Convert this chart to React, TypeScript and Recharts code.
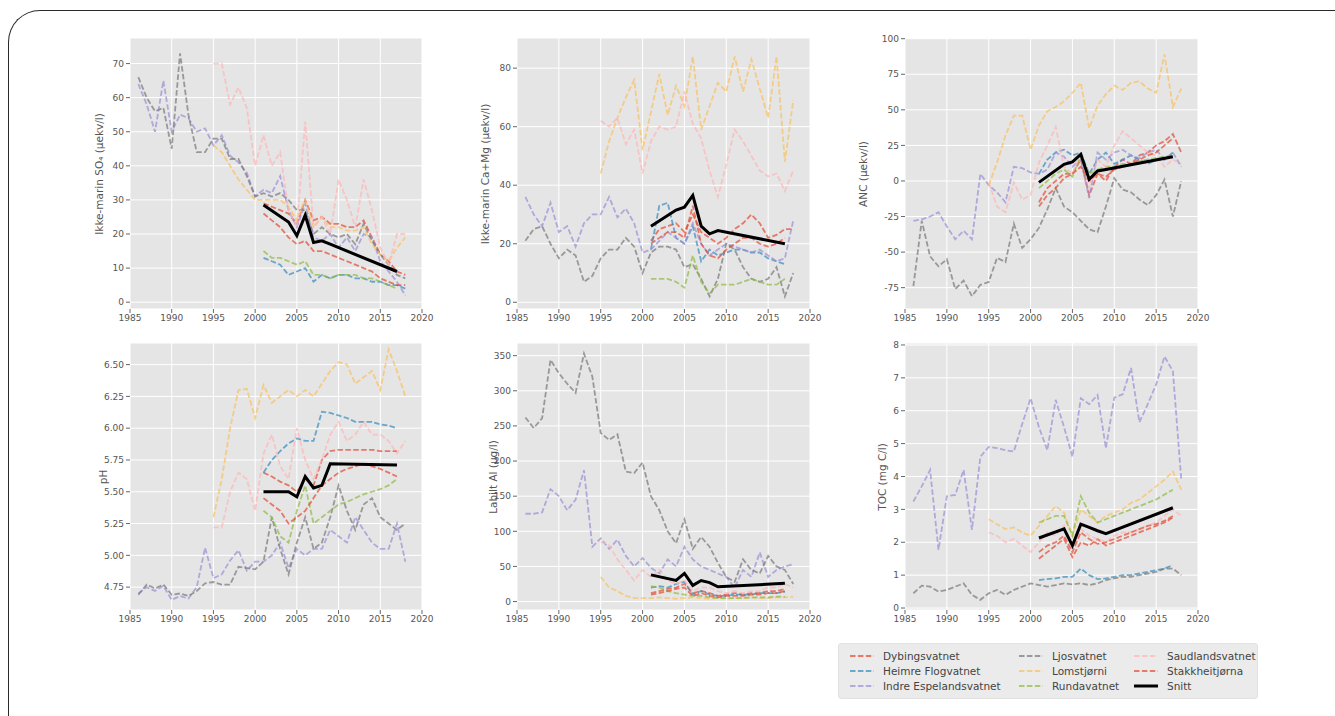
import { LineChart, Line, XAxis, YAxis, CartesianGrid } from 'recharts'

const YEARS = [
  1986, 1987, 1988, 1989, 1990, 1991, 1992, 1993, 1994, 1995, 1996, 1997, 1998, 1999, 2000,
  2001, 2002, 2003, 2004, 2005, 2006, 2007, 2008, 2009, 2010, 2011, 2012, 2013, 2014, 2015,
  2016, 2017, 2018,
]
const SNITT_YEARS = [2001, 2004, 2005, 2006, 2007, 2008, 2009, 2017]
const X_TICKS = [1985, 1990, 1995, 2000, 2005, 2010, 2015, 2020]

const SERIES = [
  { key: 'dyb', name: 'Dybingsvatnet', color: '#E24A33', start: 2001 },
  { key: 'hei', name: 'Heimre Flogvatnet', color: '#348ABD', start: 2001 },
  { key: 'ind', name: 'Indre Espelandsvatnet', color: '#988ED5', start: 1986 },
  { key: 'ljo', name: 'Ljosvatnet', color: '#777777', start: 1986 },
  { key: 'lom', name: 'Lomstjørni', color: '#FBC15E', start: 1995 },
  { key: 'run', name: 'Rundavatnet', color: '#8EBA42', start: 2001 },
  { key: 'sau', name: 'Saudlandsvatnet', color: '#FFB5B8', start: 1995 },
  { key: 'sta', name: 'Stakkheitjørna', color: '#E24A33', start: 2001 },
]

// Ikke-marin SO4
const SO4 = {
  dyb: [29, 28, 27, 26, 23, 30, 24, 25, 23, 23, 22, 22, 24, 19, 14, 12, 9, 8],
  hei: [13, 12, 11, 8, 9, 10, 6, 8, 7, 8, 8, 7, 7, 6, 6, 5, 5, 4],
  ind: [64, 58, 50, 65, 50, 55, 54, 50, 51, 46, 49, 43, 41, 38, 31,
    33, 32, 37, 27, 22, 29, 19, 18, 20, 16, 19, 15, 20, 19, 12, 9, 6, 2],
  ljo: [66, 60, 56, 57, 45, 73, 55, 44, 44, 48, 48, 42, 42, 37, 31,
    32, 31, 32, 30, 27, 27, 20, 22, 20, 19, 20, 17, 23, 18, 14, 11, 8, 7],
  lom: [46, 44, 40, 36, 33, 30, 30, 30, 30, 28, 24, 30, 22, 25, 22, 22, 21, 21, 22, 17, 14, 12, 16, 19],
  run: [15, 13, 13, 12, 11, 12, 8, 8, 7, 8, 8, 8, 7, 7, 6, 5, 4],
  sau: [70, 70, 58, 63, 57, 40, 49, 40, 44, 27, 22, 53, 22, 25, 20, 36, 30, 22, 36, 27, 16, 11, 20, 20],
  sta: [26, 24, 22, 19, 17, 18, 15, 15, 14, 13, 12, 11, 10, 9, 7, 6, 5, 5],
  snitt: [28.5, 23.5, 19.5, 25.5, 17.5, 18, 17, 9],
}

// Ikke-marin Ca+Mg
const CAMG = {
  dyb: [21, 25, 26, 27, 24, 30, 24, 22, 20, 22, 25, 27, 30, 27, 22, 23, 25, 25],
  hei: [18, 33, 34, 22, 20, 26, 14, 18, 16, 17, 18, 18, 17, 17, 15, 14, 13],
  ind: [36, 30, 26, 34, 24, 26, 19, 27, 30, 30, 36, 29, 32, 27, 17,
    18, 21, 24, 22, 20, 27, 20, 16, 18, 20, 19, 18, 17, 18, 16, 14, 15, 28],
  ljo: [21, 25, 26, 20, 15, 18, 16, 7, 9, 15, 18, 18, 22, 19, 10,
    17, 19, 19, 18, 12, 13, 8, 2, 8, 20, 18, 12, 8, 7, 8, 12, 2, 10],
  lom: [44, 55, 63, 70, 76, 52, 65, 78, 64, 74, 67, 84, 59, 67, 75, 72, 84, 72, 83, 73, 63, 84, 48, 69],
  run: [8, 8, 8, 7, 5, 16, 7, 3, 6, 6, 6, 7, 8, 7, 6, 6, 8],
  sau: [62, 60, 63, 54, 59, 44, 55, 60, 59, 60, 72, 61, 56, 45, 36, 47, 59, 55, 50, 45, 43, 44, 38, 45],
  sta: [20, 22, 24, 24, 22, 33, 20, 16, 15, 18, 20, 22, 22, 20, 19, 20, 22],
  snitt: [26, 31.5, 32.5, 36.5, 26, 23.4, 24.5, 20],
}

// ANC
const ANC = {
  dyb: [-15, -5, 0, 5, 5, 15, -10, 5, 0, 10, 15, 12, 18, 20, 25, 28, 33, 20],
  hei: [5, 15, 20, 22, 18, 20, 5, 15, 20, 12, 15, 18, 15, 12, 15, 15, 20],
  ind: [-28, -27, -25, -22, -32, -41, -35, -41, 5, -3, -8, -15, 10, 9, 6,
    5, 8, 20, 17, 10, 15, -12, 20, 15, 20, 22, 18, 16, 20, 22, 15, 20, 10],
  ljo: [-74, -28, -53, -60, -55, -76, -70, -81, -73, -71, -54, -57, -30, -47, -41,
    -33, -20, -5, -18, -22, -28, -34, -36, -18, 2, -6, -8, -13, -17, -10, 1, -25, 0],
  lom: [-3, 13, 32, 46, 46, 22, 39, 49, 52, 56, 62, 69, 37, 53, 61, 67, 64, 69, 70, 65, 62, 89, 52, 65],
  run: [-5, 0, 5, 8, 3, 18, 5, 8, 10, 10, 12, 12, 14, 15, 16, 17, 18],
  sau: [-1, -18, -22, -1, -13, -10, 13, 25, 38, 10, 5, 20, -5, 15, 10, 25, 35, 30, 25, 20, 18, 10, 15, 12],
  sta: [-18, -10, -5, 2, 5, 10, 0, 5, 3, 8, 10, 12, 15, 18, 20, 25, 30],
  snitt: [-1, 11.7, 13.4, 18.7, 1.2, 7, 8, 17],
}

// pH
const PH = {
  dyb: [5.65, 5.62, 5.58, 5.55, 5.5, 5.6, 5.55, 5.75, 5.82, 5.83, 5.83, 5.83, 5.83, 5.83, 5.82, 5.82, 5.82],
  hei: [5.65, 5.75, 5.82, 5.88, 5.92, 5.9, 5.9, 6.13, 6.12, 6.1, 6.08, 6.05, 6.05, 6.05, 6.03, 6.02, 6.0],
  ind: [4.7, 4.75, 4.72, 4.76, 4.65, 4.68, 4.66, 4.75, 5.06, 4.82, 4.85, 4.96, 5.04, 4.88, 4.95,
    4.95, 5.0, 5.1, 4.9, 5.05, 5.0, 5.05, 5.05, 5.2, 5.15, 5.1, 5.3, 5.2, 5.1, 5.05, 5.05, 5.25, 4.95],
  ljo: [4.69, 4.77, 4.74, 4.77, 4.69, 4.7, 4.68, 4.72, 4.78, 4.79, 4.77, 4.77, 4.91, 4.9, 4.89,
    4.95, 5.3, 5.05, 4.85, 5.1, 5.3, 5.05, 5.1, 5.3, 5.55, 5.35, 5.2, 5.4, 5.45, 5.3, 5.25, 5.2, 5.25],
  lom: [5.3, 5.6, 6.0, 6.3, 6.31, 6.08, 6.34, 6.2, 6.25, 6.3, 6.25, 6.3, 6.25, 6.35, 6.45, 6.52, 6.5, 6.35, 6.4, 6.45, 6.3, 6.62, 6.45, 6.25],
  run: [5.35, 5.3, 5.15, 5.1, 5.35, 5.55, 5.25, 5.3, 5.35, 5.4, 5.42, 5.45, 5.48, 5.5, 5.52, 5.55, 5.6],
  sau: [5.22, 5.22, 5.5, 5.65, 5.6, 5.35, 5.8, 5.95, 5.7, 5.6, 6.0, 5.75, 5.6, 5.75, 5.95, 6.05, 5.9, 5.95, 6.05, 5.95, 5.95, 5.9, 5.8, 5.9],
  sta: [5.45, 5.4, 5.35, 5.25, 5.3, 5.35, 5.45, 5.55, 5.6, 5.65, 5.68, 5.7, 5.72, 5.7, 5.68, 5.65, 5.62],
  snitt: [5.5, 5.5, 5.46, 5.62, 5.53, 5.55, 5.72, 5.71],
}

// Labilt Al
const AL = {
  dyb: [12, 15, 18, 20, 25, 12, 15, 12, 8, 10, 12, 10, 12, 12, 15, 15, 18],
  hei: [20, 22, 20, 25, 28, 10, 15, 10, 8, 8, 10, 10, 10, 12, 12, 12, 14],
  ind: [125, 125, 127, 160, 150, 130, 145, 187, 78, 90, 75, 88, 65, 50, 62,
    48, 40, 60, 50, 78, 60, 50, 45, 40, 35, 20, 45, 35, 70, 35, 45, 50, 53],
  ljo: [262, 247, 261, 344, 325, 310, 297, 353, 320, 240, 230, 238, 185, 183, 198,
    150, 130, 100, 83, 117, 75, 92, 78, 55, 35, 28, 60, 45, 40, 65, 50, 45, 25],
  lom: [35, 20, 15, 8, 5, 5, 5, 6, 5, 4, 5, 6, 5, 4, 5, 4, 5, 5, 6, 5, 5, 6, 6, 7],
  run: [22, 20, 15, 12, 10, 8, 8, 6, 5, 5, 5, 5, 6, 6, 6, 7, 7],
  sau: [85, 80, 60, 45, 30, 45, 35, 45, 30, 25, 30, 15, 20, 20, 15, 12, 15, 12, 15, 15, 20, 20, 25, 20],
  sta: [10, 12, 15, 18, 20, 8, 12, 8, 6, 8, 8, 8, 10, 10, 12, 12, 15],
  snitt: [38, 30, 40, 23, 30, 27, 21, 26],
}

// TOC
const TOC = {
  dyb: [1.5, 1.7, 1.9, 2.1, 1.55, 2.0, 1.9, 2.1, 1.9, 2.0, 2.1, 2.2, 2.3, 2.4, 2.5, 2.6, 2.75],
  hei: [0.85, 0.88, 0.9, 0.95, 0.95, 1.2, 1.0, 0.88, 0.9, 0.95, 1.0, 1.0, 1.05, 1.1, 1.15, 1.2, 1.3],
  ind: [3.24, 3.7, 4.2, 1.77, 3.4, 3.44, 4.2, 2.38, 4.6, 4.9, 4.86, 4.8, 4.76, 5.6, 6.38,
    5.5, 4.8, 6.33, 5.5, 4.6, 6.38, 6.2, 6.48, 4.86, 6.4, 6.5, 7.3, 5.65, 6.2, 6.8, 7.65, 7.2, 3.9],
  ljo: [0.45, 0.68, 0.65, 0.5, 0.55, 0.65, 0.75, 0.4, 0.25, 0.45, 0.55, 0.4, 0.55, 0.65, 0.75,
    0.7, 0.65, 0.7, 0.75, 0.72, 0.75, 0.7, 0.75, 0.85, 0.9, 0.95, 0.95, 1.0, 1.05, 1.1, 1.2, 1.2, 1.0],
  lom: [2.7, 2.55, 2.4, 2.45, 2.3, 2.2, 2.5, 2.8, 3.1, 2.9, 2.2, 3.0, 2.8, 2.6, 2.8, 2.9, 3.0, 3.2, 3.3, 3.5, 3.7, 3.9, 4.15, 3.6],
  run: [2.6, 2.7, 2.8, 2.8, 2.2, 3.4, 2.9, 2.6, 2.7, 2.8, 2.9, 3.0, 3.1, 3.2, 3.3, 3.45, 3.6],
  sau: [2.3, 2.2, 2.0, 2.1, 1.9, 1.7, 2.0, 2.3, 2.2, 2.5, 1.8, 2.4, 2.2, 2.1, 2.0, 2.2, 2.3, 2.3, 2.4, 2.5, 2.6, 2.8, 3.0, 2.8],
  sta: [1.7, 1.9, 2.0, 2.2, 1.7, 2.3, 2.1, 1.95, 2.0, 2.1, 2.2, 2.3, 2.4, 2.5, 2.55, 2.65, 2.8],
  snitt: [2.13, 2.41, 1.9, 2.55, 2.45, 2.35, 2.26, 3.05],
}

const FONT = '"DejaVu Sans", sans-serif'
const DASH = '5.5 2.4'

function buildRows(panel: Record<string, number[]>) {
  return YEARS.map((year) => {
    const row: Record<string, number | null> = { year }
    SERIES.forEach((s) => {
      const i = year - s.start
      const arr = panel[s.key]
      row[s.key] = i >= 0 && i < arr.length ? arr[i] : null
    })
    const j = SNITT_YEARS.indexOf(year)
    row.snitt = j >= 0 ? panel.snitt[j] : null
    return row
  })
}

interface PanelProps {
  data: Record<string, number[]>
  left: number
  top: number
  w: number
  h: number
  domain: [number, number]
  ticks: number[]
  fmt?: (v: number) => string
  label: string
  labelX: number
}

function Panel({ data, left, top, w, h, domain, ticks, fmt, label, labelX }: PanelProps) {
  const rows = buildRows(data)
  const tick = { fill: '#555', fontSize: 9, fontFamily: FONT }
  return (
    <>
      <div style={{ position: 'absolute', left: left - 60, top: top - 5 }}>
        <LineChart width={w + 80} height={h + 35} data={rows} margin={{ top: 5, right: 20, left: 0, bottom: 0 }}>
          <CartesianGrid stroke="#ffffff" strokeWidth={1} fill="#E5E5E5" fillOpacity={1} />
          <XAxis
            dataKey="year"
            type="number"
            domain={[1985, 2020]}
            ticks={X_TICKS}
            allowDataOverflow
            height={30}
            tick={tick}
            tickSize={4}
            tickLine={{ stroke: '#666' }}
            axisLine={false}
          />
          <YAxis
            type="number"
            domain={domain}
            ticks={ticks}
            allowDataOverflow
            width={60}
            tick={tick}
            tickSize={4}
            tickLine={{ stroke: '#666' }}
            axisLine={false}
            tickFormatter={fmt}
          />
          {SERIES.map((s) => (
            <Line
              key={s.key}
              dataKey={s.key}
              stroke={s.color}
              strokeOpacity={0.7}
              strokeWidth={1.8}
              strokeDasharray={DASH}
              dot={false}
              isAnimationActive={false}
            />
          ))}
          <Line dataKey="snitt" stroke="#000" strokeWidth={3} dot={false} connectNulls isAnimationActive={false} />
        </LineChart>
      </div>
      <div
        style={{
          position: 'absolute',
          left: labelX,
          top: top + h / 2,
          transform: 'translate(-50%, -50%) rotate(-90deg)',
          whiteSpace: 'nowrap',
          fontFamily: FONT,
          fontSize: 10.5,
          color: '#555',
        }}
      >
        {label}
      </div>
    </>
  )
}

function Legend() {
  const cols = [
    [SERIES[0], SERIES[1], SERIES[2]],
    [SERIES[3], SERIES[4], SERIES[5]],
    [SERIES[6], SERIES[7], null],
  ]
  const colX = [10, 179, 294]
  return (
    <div
      style={{
        position: 'absolute',
        left: 838,
        top: 643,
        width: 418,
        height: 54,
        background: '#EBEBEB',
        border: '1px solid #e2e2e2',
        borderRadius: 3,
        fontFamily: FONT,
        fontSize: 10.5,
        color: '#444',
      }}
    >
      {cols.map((col, ci) =>
        col.map((s, ri) => (
          <div
            key={`${ci}-${ri}`}
            style={{ position: 'absolute', left: colX[ci], top: 4 + ri * 15, height: 15, display: 'flex', alignItems: 'center' }}
          >
            <svg width={26} height={10} style={{ marginRight: 8 }}>
              {s ? (
                <line x1={1} y1={5} x2={25} y2={5} stroke={s.color} strokeOpacity={0.7} strokeWidth={1.8} strokeDasharray={DASH} />
              ) : (
                <line x1={1} y1={5} x2={25} y2={5} stroke="#000" strokeWidth={3} />
              )}
            </svg>
            <span>{s ? s.name : 'Snitt'}</span>
          </div>
        )),
      )}
    </div>
  )
}

export default function App() {
  return (
    <div style={{ position: 'fixed', left: 0, top: 0, width: 1335, height: 716, background: '#fff', overflow: 'hidden' }}>
      <div
        style={{
          position: 'absolute',
          left: 8,
          top: 10,
          width: 1500,
          height: 900,
          borderTop: '1.5px solid #2a2a2a',
          borderLeft: '1.5px solid #2a2a2a',
          borderTopLeftRadius: 32,
        }}
      />
      <Panel data={SO4} left={130} top={38} w={292} h={271} domain={[-2, 77.5]} ticks={[0, 10, 20, 30, 40, 50, 60, 70]} label="Ikke-marin SO₄ (µekv/l)" labelX={99} />
      <Panel data={CAMG} left={517} top={38} w={293} h={271} domain={[-2.3, 90.3]} ticks={[0, 20, 40, 60, 80]} label="Ikke-marin Ca+Mg (µekv/l)" labelX={485} />
      <Panel data={ANC} left={905} top={38} w={293} h={271} domain={[-90, 100.5]} ticks={[-75, -50, -25, 0, 25, 50, 75, 100]} label="ANC (µekv/l)" labelX={863} />
      <Panel data={PH} left={130} top={343} w={292} h={267} domain={[4.57, 6.67]} ticks={[4.75, 5, 5.25, 5.5, 5.75, 6, 6.25, 6.5]} fmt={(v) => v.toFixed(2)} label="pH" labelX={103} />
      <Panel data={AL} left={517} top={343} w={293} h={267} domain={[-12, 368]} ticks={[0, 50, 100, 150, 200, 250, 300, 350]} label="Labilt Al (µg/l)" labelX={493} />
      <Panel data={TOC} left={905} top={343} w={293} h={267} domain={[-0.06, 8.06]} ticks={[0, 1, 2, 3, 4, 5, 6, 7, 8]} label="TOC (mg C/l)" labelX={882} />
      <Legend />
    </div>
  )
}
